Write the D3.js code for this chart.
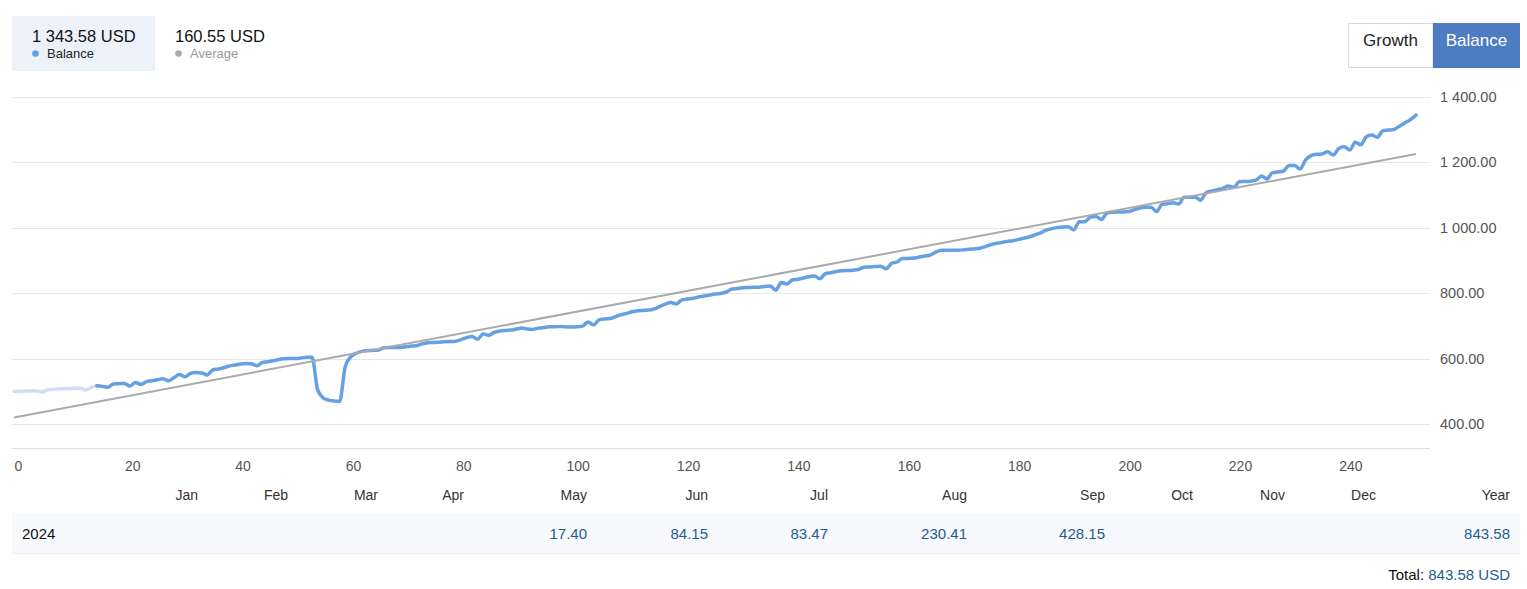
<!DOCTYPE html>
<html><head><meta charset="utf-8">
<script src="https://cdn.jsdelivr.net/npm/d3@7"></script>
<style>
body{margin:0;background:#fff;}
text{font-family:"Liberation Sans",Arial,sans-serif;}
</style>
</head><body>
<svg id="chart" width="1527" height="589"></svg>
<script>
// ---------- DATA ----------
const balance = [
 500,500,500,501,501,498,504,506,507,508,
 508,509,509,504,512,517,515,512,522,523,
 524,516,527,521,529,532,535,538,532,542,
 551,544,555,557,556,550,565,568,572,577,
 580,583,585,584,578,588,590,593,597,599,
 600,600,602,604,604,505,480,473,470,469,
 575,605,616,622,624,625,626,633,634,634,
 634,636,638,640,645,648,649,650,651,652,
 653,658,664,667,659,675,671,680,684,686,
 687,690,693,690,689,693,695,697,697,698,
 697,696,697,699,712,703,718,721,722,728,
 734,738,743,746,747,748,752,759,766,771,
 767,779,782,784,788,791,794,797,799,803,
 812,814,816,817,818,818,820,822,809,832,
 828,840,842,846,850,852,844,859,862,866,
 868,869,870,872,879,880,881,882,874,891,
 895,906,906,907,910,913,916,925,931,931,
 931,931,932,934,935,937,942,948,952,955,
 958,960,964,968,972,978,984,992,997,1000,
 1002,1003,993,1018,1018,1032,1034,1025,1044,1047,
 1048,1048,1049,1055,1060,1062,1062,1049,1071,1073,
 1076,1072,1093,1093,1093,1084,1107,1112,1116,1120,
 1127,1123,1140,1141,1142,1145,1158,1149,1168,1170,
 1173,1190,1190,1179,1207,1220,1224,1225,1232,1222,
 1242,1247,1237,1261,1253,1278,1283,1276,1296,1298,
 1300,1310,1320,1330,1343.58
];
const lightEnd = 15;                 // points 0..15 drawn in the pale colour
const averageLine = [{i: 0, v: 420}, {i: 254, v: 1225}];
const yTicks = [400, 600, 800, 1000, 1200, 1400];
const xTicks = [0, 20, 40, 60, 80, 100, 120, 140, 160, 180, 200, 220, 240];
const legendValues = ["1 343.58 USD", "160.55 USD"];
const legendLabels = ["Balance", "Average"];
const buttonLabels = ["Growth", "Balance"];
const monthNames = ["Jan","Feb","Mar","Apr","May","Jun","Jul","Aug","Sep","Oct","Nov","Dec","Year"];
const yearLabel = "2024";
const monthValues = [null,null,null,null,17.40,84.15,83.47,230.41,428.15,null,null,null,843.58];
const totalLabel = "Total:";
const totalValue = "843.58 USD";

// ---------- LAYOUT / STYLE ----------
const colRight = [198,288,378,464,587,708,828,967,1105,1193,1285,1376,1510];
const C = {blue:"#65a0e3", pale:"#d3dcf2", avg:"#aaaaaa", grid:"#e8e8e8", axis:"#dedede",
           label:"#555", dark:"#222", link:"#1f5d91", legendBg:"#edf2fa", btn:"#4d7cc0"};

const svg = d3.select("#chart");
const x = d3.scaleLinear().domain([0, 254]).range([14, 1416]);
const y = d3.scaleLinear().domain([400, 1400]).range([424, 96.7]);
const loc = d3.formatLocale({decimal:".", thousands:" ", grouping:[3], currency:["",""]});
const fmt = loc.format(",.2f");

// grid
svg.append("g").selectAll("line").data(yTicks).join("line")
  .attr("x1", 12).attr("x2", 1430)
  .attr("y1", d => Math.round(y(d)) + 0.5).attr("y2", d => Math.round(y(d)) + 0.5)
  .attr("stroke", C.grid);
svg.append("line").attr("x1", 12).attr("x2", 1430).attr("y1", 448.5).attr("y2", 448.5)
  .attr("stroke", C.axis);

// y axis labels (right)
const yAxis = d3.axisRight(y).tickValues(yTicks).tickFormat(fmt).tickSize(0).tickPadding(0);
const ya = svg.append("g").attr("transform", "translate(1440,0)").call(yAxis);
ya.select(".domain").remove();
ya.selectAll("text").attr("fill", C.label).style("font-size", "14.5px")
  .style("font-family", "'Liberation Sans',Arial,sans-serif");

// x axis labels (bottom, left-anchored on tick)
const xAxis = d3.axisBottom(x).tickValues(xTicks).tickFormat(d3.format("d")).tickSize(0).tickPadding(0);
const xa = svg.append("g").attr("transform", "translate(0,460)").call(xAxis);
xa.select(".domain").remove();
xa.selectAll("text").attr("fill", C.label).attr("text-anchor", "start").attr("dy", "0.8em")
  .style("font-size", "14px").style("font-family", "'Liberation Sans',Arial,sans-serif");

// balance line
const pts = balance.map((v, i) => ({i, v}));
const line = d3.line().x(d => x(d.i)).y(d => y(d.v)).curve(d3.curveMonotoneX);
svg.append("path").datum(pts.slice(0, lightEnd + 1)).attr("d", line)
  .attr("fill", "none").attr("stroke", C.pale).attr("stroke-width", 3.5)
  .attr("stroke-linejoin", "round").attr("stroke-linecap", "round");
svg.append("path").datum(pts.slice(lightEnd)).attr("d", line)
  .attr("fill", "none").attr("stroke", C.blue).attr("stroke-width", 3.5)
  .attr("stroke-linejoin", "round").attr("stroke-linecap", "round");

// average line
svg.append("path").datum(averageLine)
  .attr("d", d3.line().x(d => x(d.i)).y(d => y(d.v)))
  .attr("fill", "none").attr("stroke", C.avg).attr("stroke-width", 2);

// legend
svg.append("rect").attr("x", 12).attr("y", 16).attr("width", 143).attr("height", 55).attr("fill", C.legendBg);
const legendX = [32, 175];
const legendColors = [C.blue, "#aaaaaa"];
const legendTextColors = [C.dark, "#999"];
legendValues.forEach((t, k) => {
  svg.append("text").attr("x", legendX[k]).attr("y", 42).text(t)
    .attr("fill", "#111").style("font-size", "16.5px");
  svg.append("circle").attr("cx", legendX[k] + 3.5).attr("cy", 53.5).attr("r", 3.3).attr("fill", legendColors[k]);
  svg.append("text").attr("x", legendX[k] + 15).attr("y", 58).text(legendLabels[k])
    .attr("fill", legendTextColors[k]).style("font-size", "13px");
});

// buttons
svg.append("rect").attr("x", 1348.5).attr("y", 23.5).attr("width", 84.5).attr("height", 44)
  .attr("fill", "#fff").attr("stroke", "#d8d8d8");
svg.append("rect").attr("x", 1433).attr("y", 23).attr("width", 87).attr("height", 45).attr("fill", C.btn);
svg.append("text").attr("x", 1390.5).attr("y", 40).attr("dy", "0.35em").attr("text-anchor", "middle")
  .text(buttonLabels[0]).attr("fill", C.dark).style("font-size", "17px");
svg.append("text").attr("x", 1476.5).attr("y", 40).attr("dy", "0.35em").attr("text-anchor", "middle")
  .text(buttonLabels[1]).attr("fill", "#fff").style("font-size", "17px");

// table
svg.append("rect").attr("x", 12).attr("y", 513).attr("width", 1508).attr("height", 40).attr("fill", "#f7f9fd");
svg.append("line").attr("x1", 12).attr("x2", 1520).attr("y1", 553.5).attr("y2", 553.5).attr("stroke", "#eceff3");
svg.append("g").selectAll("text").data(monthNames).join("text")
  .attr("x", (d, k) => colRight[k]).attr("y", 500).attr("text-anchor", "end")
  .text(d => d).attr("fill", "#333").style("font-size", "14px");
svg.append("text").attr("x", 22).attr("y", 539).text(yearLabel).attr("fill", "#111").style("font-size", "15px");
svg.append("g").selectAll("text").data(monthValues).join("text")
  .attr("x", (d, k) => colRight[k]).attr("y", 539).attr("text-anchor", "end")
  .text(d => d == null ? "" : d3.format(".2f")(d)).attr("fill", C.link).style("font-size", "15px");
const tot = svg.append("text").attr("x", 1510).attr("y", 580).attr("text-anchor", "end").style("font-size", "15px");
tot.append("tspan").text(totalLabel + " ").attr("fill", "#111");
tot.append("tspan").text(totalValue).attr("fill", C.link);
</script>
</body></html>
